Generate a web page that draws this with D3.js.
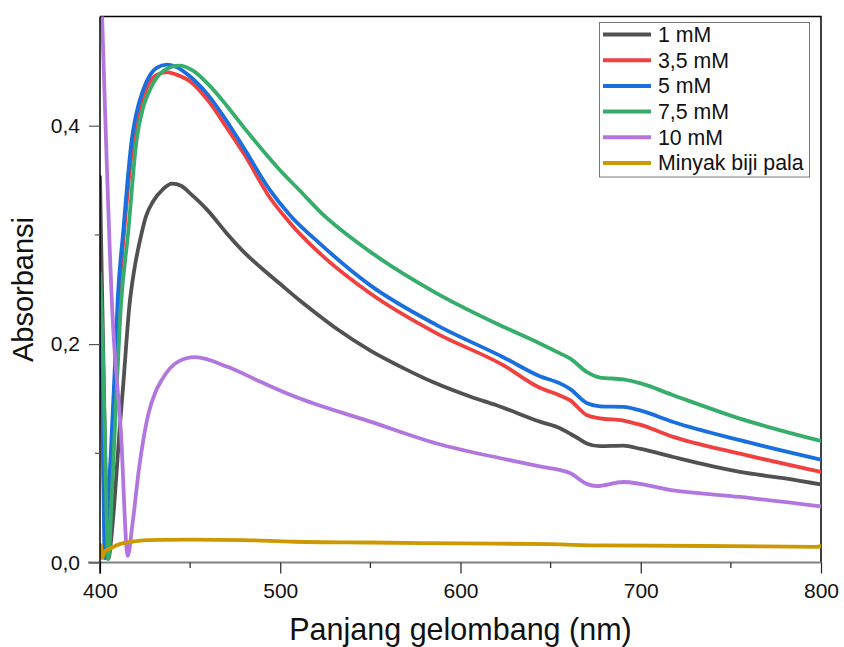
<!DOCTYPE html>
<html>
<head>
<meta charset="utf-8">
<script src="https://cdn.jsdelivr.net/npm/d3@7"></script>
<style>
  html, body { margin: 0; padding: 0; background: #fff; }
  svg { display: block; font-family: "Liberation Sans", Arial, sans-serif; }
</style>
</head>
<body>
<svg id="chart" width="844" height="647"></svg>
<script>
// UV-Vis absorption spectra: [wavelength (nm), absorbance]
const series1mM = [
  [400, 0.353], [401, 0.26], [402, 0.175], [403, 0.09], [404, 0.025], [404.8, 0.004],
  [406, 0.018], [408, 0.055], [410.7, 0.118], [413, 0.165], [416.3, 0.235], [419, 0.268],
  [422.2, 0.295], [425.5, 0.317], [429.6, 0.331], [435, 0.342], [440, 0.347], [445, 0.345],
  [450, 0.338], [460, 0.322], [470, 0.302], [480, 0.284], [490, 0.269], [500, 0.255],
  [510, 0.241], [520, 0.228], [531.3, 0.214], [550, 0.194], [568.3, 0.178],
  [585, 0.165], [605.3, 0.152], [620, 0.144], [644, 0.129], [655.2, 0.123], [660.7, 0.118],
  [665, 0.114], [670, 0.109], [677.4, 0.1065], [690.3, 0.107], [700, 0.104], [718, 0.0966],
  [740, 0.088], [755, 0.0829], [780, 0.077], [800, 0.0714]
];
const series35mM = [
  [400, 0.23], [401, 0.15], [402, 0.08], [403.3, 0.004], [405, 0.05], [407, 0.115],
  [410.5, 0.24], [413.5, 0.305], [418, 0.38], [422.2, 0.417], [426, 0.435], [431, 0.446],
  [437, 0.449], [442, 0.447], [450, 0.4406], [460, 0.423], [470, 0.399], [480, 0.374],
  [494.3, 0.334], [505.4, 0.311], [522, 0.283], [549.8, 0.2465], [586.8, 0.2098],
  [623.7, 0.1807], [644, 0.160], [655.2, 0.153], [660.7, 0.1486], [670, 0.135],
  [677.4, 0.132], [690.3, 0.130], [700, 0.126], [718, 0.115], [755, 0.0997], [800, 0.0829]
];
const series5mM = [
  [400, 0.25], [401, 0.17], [402, 0.06], [402.6, 0.004], [404, 0.04], [406, 0.10],
  [408, 0.17], [409.8, 0.24], [413, 0.305], [417.6, 0.387], [420, 0.41], [424, 0.433],
  [428, 0.447], [431.4, 0.453], [437, 0.456], [442, 0.454], [450, 0.445], [460, 0.428],
  [470, 0.405], [480, 0.379], [494.3, 0.341], [505.4, 0.318], [522, 0.292],
  [549.8, 0.254], [586.8, 0.2174], [623.7, 0.188], [644, 0.1706], [655.2, 0.164],
  [660.7, 0.159], [670, 0.146], [677.4, 0.143], [690.3, 0.1425], [700, 0.139],
  [718, 0.1287], [755, 0.112], [800, 0.0942]
];
const series75mM = [
  [400, 0.265], [401.5, 0.2], [403, 0.09], [404.6, 0.003], [406.5, 0.06], [409, 0.15],
  [411.6, 0.235], [415.5, 0.30], [420.3, 0.387], [424, 0.417], [427.7, 0.433], [435, 0.450],
  [444, 0.455], [452, 0.450], [460, 0.438], [470, 0.419], [480, 0.398], [490, 0.378],
  [500, 0.359], [510, 0.342], [522, 0.3214], [549.8, 0.2847], [586.8, 0.2465],
  [623.7, 0.2159], [644, 0.2006], [655.2, 0.1915], [660.7, 0.1869], [670, 0.1746],
  [677.4, 0.1694], [690.3, 0.1676], [700, 0.164], [718, 0.1532], [755, 0.1318], [800, 0.1113]
];
const series10mM = [
  [400, 0.56], [401.1, 0.503], [406.9, 0.2275], [411.65, 0.118], [415.4, 0.006],
  [418, 0.035], [421.8, 0.088], [424, 0.112], [427, 0.137], [430.5, 0.155], [434.2, 0.167],
  [443.4, 0.184], [452.7, 0.188], [471, 0.179], [489.7, 0.165], [508, 0.152], [550, 0.129],
  [586.8, 0.109], [623.6, 0.095], [644, 0.088], [660.7, 0.082], [670, 0.072], [675.5, 0.070],
  [690.3, 0.0737], [718, 0.066], [755, 0.060], [800, 0.0514]
];
const seriesOil = [
  [400, 0.012], [400.5, 0.016], [401.2, 0.004], [402, 0.008], [403.3, 0.011], [406, 0.013],
  [408.9, 0.0156], [416.3, 0.0186], [425.5, 0.0205], [434, 0.0208], [450, 0.021],
  [480, 0.0205], [508, 0.019], [550, 0.0183], [600, 0.0175], [650, 0.0168], [677.4, 0.0156],
  [750, 0.015], [798, 0.0144], [800, 0.0152]
];

const seriesNames = ["1 mM", "3,5 mM", "5 mM", "7,5 mM", "10 mM", "Minyak biji pala"];
const seriesColors = ["#515151", "#F14040", "#1A6FDF", "#37AD6B", "#B177DE", "#CC9900"];
const seriesData = [series1mM, series35mM, series5mM, series75mM, series10mM, seriesOil];

const xTickValues = [400, 500, 600, 700, 800];
const xTickLabels = ["400", "500", "600", "700", "800"];
const xMinorTicks = [450, 550, 650, 750];
const yTickValues = [0, 0.2, 0.4];
const yTickLabels = ["0,0", "0,2", "0,4"];
const yMinorTicks = [0.1, 0.3];

const xTitle = "Panjang gelombang (nm)";
const yTitle = "Absorbansi";

// layout
const plot = { left: 100, right: 821, top: 16.5, bottom: 562.5 };

const svg = d3.select("#chart");

const x = d3.scaleLinear().domain([400, 800]).range([plot.left, plot.right]);
const y = d3.scaleLinear().domain([0, 0.5]).range([plot.bottom, plot.top]);

svg.append("defs").append("clipPath").attr("id", "plotClip")
  .append("rect")
  .attr("x", plot.left).attr("y", plot.top)
  .attr("width", plot.right - plot.left).attr("height", plot.bottom - plot.top);

// frame (top and right)
svg.append("path")
  .attr("d", `M${plot.left},${plot.top}H${plot.right}V${plot.bottom}`)
  .attr("fill", "none").attr("stroke", "#000").attr("stroke-width", 1.5);

// spectra
const line = d3.line()
  .x(d => x(d[0]))
  .y(d => y(d[1]))
  .curve(d3.curveMonotoneX);

const curves = svg.append("g").attr("clip-path", "url(#plotClip)");
seriesData.forEach((data, i) => {
  curves.append("path")
    .datum(data)
    .attr("d", line)
    .attr("fill", "none")
    .attr("stroke", seriesColors[i])
    .attr("stroke-width", 3.8)
    .attr("stroke-linejoin", "round")
    .attr("stroke-linecap", "round");
});

// bottom axis
const xAxis = d3.axisBottom(x)
  .tickValues(xTickValues)
  .tickFormat((d, i) => xTickLabels[i])
  .tickSize(11).tickPadding(10).tickSizeOuter(0);
const gx = svg.append("g").attr("transform", `translate(0,${plot.bottom})`).call(xAxis);
gx.select(".domain").attr("stroke", "#808080").attr("stroke-width", 2)
  .attr("d", `M${plot.left - 12},0H${plot.right}`);
gx.selectAll(".tick line").attr("stroke", "#222").attr("stroke-width", 1.2);
gx.selectAll(".tick text").attr("font-size", 21).attr("fill", "#111")
  .attr("font-family", "Liberation Sans, Arial, sans-serif");
gx.selectAll(".minor").data(xMinorTicks).enter().append("line")
  .attr("class", "minor")
  .attr("x1", d => x(d)).attr("x2", d => x(d))
  .attr("y1", 0).attr("y2", 5.5)
  .attr("stroke", "#222").attr("stroke-width", 1.2);

// left axis
const yAxis = d3.axisLeft(y)
  .tickValues(yTickValues)
  .tickFormat((d, i) => yTickLabels[i])
  .tickSize(11).tickPadding(9).tickSizeOuter(0);
const gy = svg.append("g").attr("transform", `translate(${plot.left},0)`).call(yAxis);
gy.select(".domain").attr("stroke", "#000").attr("stroke-width", 1.5)
  .attr("d", `M0,${plot.top}V${plot.bottom + 11}`);
gy.selectAll(".tick line").attr("stroke", "#555").attr("stroke-width", 1.2);
gy.selectAll(".tick text").attr("font-size", 21).attr("fill", "#111")
  .attr("font-family", "Liberation Sans, Arial, sans-serif");
gy.selectAll(".minor").data(yMinorTicks).enter().append("line")
  .attr("class", "minor")
  .attr("x1", -5).attr("x2", 0)
  .attr("y1", d => y(d)).attr("y2", d => y(d))
  .attr("stroke", "#555").attr("stroke-width", 1.2);

// axis titles
svg.append("text")
  .attr("x", (plot.left + plot.right) / 2).attr("y", 640)
  .attr("text-anchor", "middle")
  .attr("font-size", 30.5).attr("fill", "#111")
  .text(xTitle);
svg.append("text")
  .attr("transform", `translate(33,${(plot.top + plot.bottom) / 2}) rotate(-90)`)
  .attr("text-anchor", "middle")
  .attr("font-size", 29).attr("fill", "#111")
  .text(yTitle);

// legend
const legend = svg.append("g");
legend.append("rect")
  .attr("x", 599.5).attr("y", 22.5).attr("width", 210).attr("height", 154.5)
  .attr("fill", "#fff").attr("stroke", "#777").attr("stroke-width", 1);
seriesNames.forEach((name, i) => {
  const cy = 34.5 + i * 25.7;
  legend.append("line")
    .attr("x1", 603).attr("x2", 651).attr("y1", cy).attr("y2", cy)
    .attr("stroke", seriesColors[i]).attr("stroke-width", 4);
  legend.append("text")
    .attr("x", 658).attr("y", cy).attr("dy", "0.35em")
    .attr("font-size", 21.3).attr("fill", "#111")
    .text(name);
});
</script>
</body>
</html>
